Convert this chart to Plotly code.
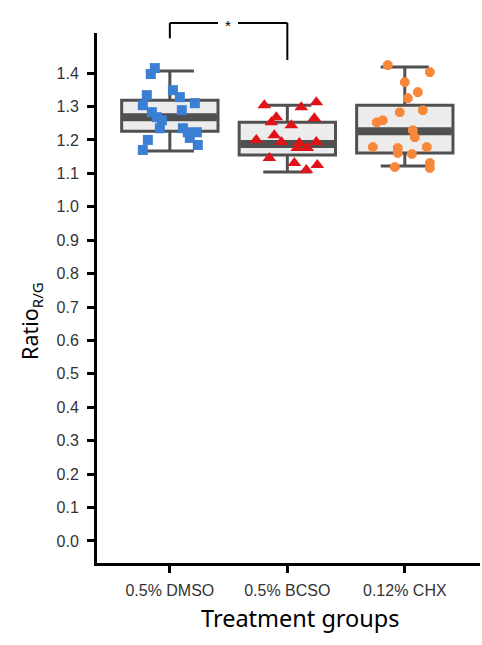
import plotly.graph_objects as go

categories = ["0.5% DMSO", "0.5% BCSO", "0.12% CHX"]
colors = ["#3b7fd4", "#e01418", "#f7873a"]
symbols = ["square", "triangle-up", "asterisk-open"]

# box statistics
q1 = [1.226, 1.155, 1.161]
median = [1.268, 1.188, 1.226]
q3 = [1.319, 1.253, 1.304]
lowerfence = [1.167, 1.104, 1.122]
upperfence = [1.406, 1.304, 1.418]

# individual points: (jitter offset in category units, value)
dmso_dx = [-0.128, -0.162, 0.026, 0.085, -0.196, 0.213, -0.230, 0.102, -0.153, -0.111,
           -0.068, -0.085, 0.111, 0.153, 0.230, -0.187, 0.170, 0.238, -0.230]
dmso_y = [1.415, 1.397, 1.349, 1.328, 1.334, 1.310, 1.304, 1.289, 1.283, 1.268,
          1.259, 1.235, 1.235, 1.223, 1.223, 1.200, 1.206, 1.185, 1.170]
bcso_dx = [-0.196, 0.119, 0.247, -0.094, -0.136, 0.230, 0.034, -0.264, -0.111, -0.051,
           0.102, 0.247, 0.170, 0.085, -0.153, 0.060, 0.255, 0.162]
bcso_y = [1.304, 1.298, 1.313, 1.268, 1.253, 1.265, 1.244, 1.200, 1.214, 1.194,
          1.191, 1.194, 1.176, 1.176, 1.146, 1.131, 1.125, 1.110]
chx_dx = [-0.145, 0.213, 0.0, 0.111, 0.026, 0.153, -0.043, -0.187, -0.238, 0.068,
          0.085, -0.272, 0.187, -0.060, -0.060, 0.060, -0.085, 0.213, 0.213]
chx_y = [1.424, 1.403, 1.373, 1.343, 1.325, 1.289, 1.283, 1.259, 1.253, 1.229,
         1.208, 1.179, 1.179, 1.176, 1.161, 1.158, 1.119, 1.131, 1.116]

y_ticks = [round(i * 0.1, 1) for i in range(15)]
y_ticktext = [f"{v:.1f}" for v in y_ticks]

box_w = 0.82
fig = go.Figure()

for i in range(3):
    fig.add_trace(go.Box(
        x=[i], q1=[q1[i]], median=[median[i]], q3=[q3[i]],
        lowerfence=[lowerfence[i]], upperfence=[upperfence[i]],
        width=box_w, fillcolor="#ececec",
        line=dict(color="#505050", width=3),
        boxpoints=False, showlegend=False, hoverinfo="skip",
    ))
    fig.add_trace(go.Scatter(
        x=[i - box_w / 2 + 0.01, i + box_w / 2 - 0.01], y=[median[i], median[i]],
        mode="lines", line=dict(color="#505050", width=8),
        showlegend=False, hoverinfo="skip",
    ))

groups = [(dmso_dx, dmso_y), (bcso_dx, bcso_y), (chx_dx, chx_y)]
for i, (dx, ys) in enumerate(groups):
    if symbols[i] == "asterisk-open":
        marker = dict(symbol=symbols[i], size=8, color=colors[i],
                      line=dict(color=colors[i], width=4))
    elif symbols[i] == "square":
        marker = dict(symbol=symbols[i], size=10, color=colors[i], line=dict(width=0))
    else:
        marker = dict(symbol=symbols[i], size=12, color=colors[i], line=dict(width=0))
    fig.add_trace(go.Scatter(
        x=[i + d for d in dx], y=ys, mode="markers", marker=marker,
        showlegend=False, cliponaxis=False,
    ))

# significance bracket
line_style = dict(color="black", width=2)
fig.add_shape(type="line", xref="x", yref="paper", x0=0, x1=0, y0=0.99, y1=1.019, line=line_style)
fig.add_shape(type="line", xref="x", yref="paper", x0=0, x1=0.41, y0=1.019, y1=1.019, line=line_style)
fig.add_shape(type="line", xref="x", yref="paper", x0=0.58, x1=1, y0=1.019, y1=1.019, line=line_style)
fig.add_shape(type="line", xref="x", yref="paper", x0=1, x1=1, y0=0.949, y1=1.019, line=line_style)
fig.add_annotation(x=0.495, y=1.019, xref="x", yref="paper", text="*", showarrow=False,
                   xanchor="center", yanchor="middle", yshift=-3,
                   font=dict(family="Liberation Sans", size=15, color="black"))

fig.add_annotation(x=-0.172, y=0.457, xref="paper", yref="paper",
                   xanchor="center", yanchor="middle",
                   text="Ratio<sub>R/G</sub>", textangle=-90, showarrow=False,
                   font=dict(family="Noto Sans", size=21.5, color="black"))
fig.add_annotation(x=0.532, y=-0.104, xref="paper", yref="paper",
                   xanchor="center", yanchor="middle",
                   text="Treatment groups", showarrow=False,
                   font=dict(family="Noto Sans", size=23.5, color="black"))

fig.update_layout(
    width=482, height=645,
    margin=dict(l=97, r=2, t=33, b=82),
    paper_bgcolor="white", plot_bgcolor="white",
    xaxis=dict(
        range=[-0.62, 2.64], tickvals=[0, 1, 2], ticktext=categories,
        showgrid=False, zeroline=False, showline=True, linecolor="black", linewidth=3,
        ticks="outside", ticklen=7, tickwidth=3, tickcolor="black",
        ticklabelstandoff=4,
        tickfont=dict(family="Liberation Sans", size=16, color="#333333"),
    ),
    yaxis=dict(
        range=[-0.066, 1.52], tickvals=y_ticks, ticktext=y_ticktext,
        showgrid=False, zeroline=False, showline=True, linecolor="black", linewidth=3,
        ticks="outside", ticklen=7, tickwidth=3, tickcolor="black",
        ticklabelstandoff=5,
        tickfont=dict(family="Liberation Sans", size=16, color="#333333"),
    ),
)

fig.write_html("out.html", config={"displayModeBar": False},
               post_script="document.body.style.margin='0';")
